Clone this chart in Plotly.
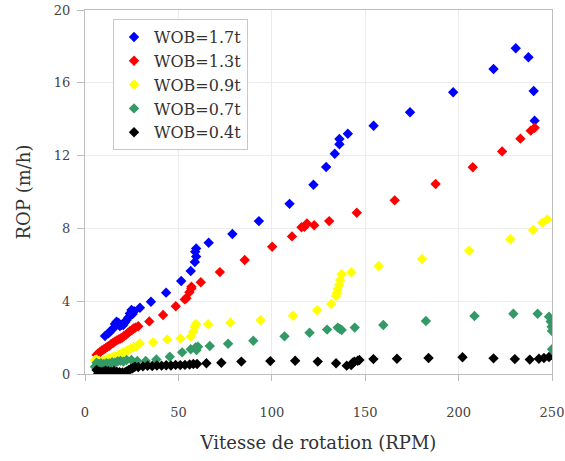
import plotly.graph_objects as go

# ROP vs rotation speed, one series per WOB
wob_labels = ["WOB=1.7t", "WOB=1.3t", "WOB=0.9t", "WOB=0.7t", "WOB=0.4t"]

rpm_17 = [10.7, 12.5, 13.5, 15.1, 16.0, 16.9, 18.0, 18.7, 19.5, 20.5, 21.5, 22.3, 23.2, 24.0, 24.9, 25.5, 26.3,
          29.4, 35.3, 43.4, 51.5, 56.6, 58.8, 59.5, 59.0, 59.5, 66.2, 78.9, 93.1, 109.5, 122.3, 129.1, 133.7,
          136.2, 136.2, 140.7, 154.5, 174.0, 197.1, 218.7, 230.6, 237.4, 240.2, 240.7]
rop_17 = [2.09, 2.23, 2.35, 2.5, 2.75, 2.87, 2.8, 2.64, 2.7, 2.69, 2.85, 2.97, 3.1, 3.33, 3.52, 3.3, 3.45,
          3.64, 3.97, 4.47, 5.11, 5.66, 6.15, 6.45, 6.72, 6.9, 7.21, 7.69, 8.4, 9.35, 10.4, 11.37, 12.1,
          12.62, 12.91, 13.2, 13.64, 14.38, 15.48, 16.76, 17.9, 17.4, 15.55, 13.92]

rpm_13 = [6.2, 7.0, 8.0, 9.0, 10.0, 11.0, 12.0, 13.0, 14.0, 15.0, 16.0, 17.0, 18.0, 19.0, 20.0, 21.0, 22.0,
          23.0, 24.0, 25.0, 26.0, 27.0, 28.5, 34.4, 41.8, 48.6, 53.4, 54.3, 55.9, 56.9, 57.0, 62.0, 72.2,
          85.5, 100.2, 110.8, 115.9, 117.5, 118.8, 122.7, 130.7, 145.5, 165.8, 187.7, 207.6, 223.3, 233.1,
          238.6, 240.7]
rop_13 = [1.05, 1.13, 1.2, 1.3, 1.35, 1.42, 1.5, 1.55, 1.65, 1.7, 1.78, 1.85, 1.9, 1.95, 2.0, 2.1, 2.15,
          2.25, 2.35, 2.4, 2.5, 2.55, 2.62, 2.89, 3.24, 3.72, 4.1, 4.16, 4.49, 4.7, 4.8, 5.04, 5.6,
          6.26, 6.99, 7.56, 8.06, 8.09, 8.27, 8.17, 8.4, 8.86, 9.54, 10.44, 11.36, 12.23, 12.93,
          13.37, 13.53]

rpm_09 = [5.3, 6.2, 7.5, 8.9, 10.0, 11.5, 13.0, 14.5, 16.0, 17.8, 19.0, 20.5, 22.0, 23.1, 24.5, 26.0, 27.6,
          29.4, 36.5, 44.0, 51.1, 56.6, 57.9, 58.8, 59.4, 65.9, 77.8, 94.0, 111.3, 124.3, 131.8, 134.4,
          134.8, 135.2, 136.0, 136.6, 137.4, 142.6, 157.2, 180.4, 205.7, 227.7, 239.9, 244.8, 247.5]
rop_09 = [0.77, 0.8, 0.72, 0.68, 0.75, 0.8, 0.85, 0.92, 0.98, 1.04, 1.1, 1.18, 1.25, 1.32, 1.4, 1.47, 1.54,
          1.68, 1.74, 1.9, 1.95, 2.05, 2.32, 2.6, 2.75, 2.73, 2.82, 2.97, 3.2, 3.5, 3.85, 4.29,
          4.45, 4.65, 4.89, 5.16, 5.48, 5.59, 5.93, 6.32, 6.78, 7.4, 7.91, 8.31, 8.49]

rpm_07 = [5.3, 6.2, 7.1, 8.5, 10.0, 11.5, 13.0, 14.5, 16.0, 17.5, 19.0, 20.5, 22.3, 24.9, 28.0, 32.5, 38.2,
          45.4, 52.0, 56.6, 59.3, 59.7, 60.5, 66.8, 76.6, 90.1, 106.8, 120.2, 129.6, 135.3, 136.5, 137.4,
          144.4, 159.7, 182.5, 208.5, 229.3, 242.3, 248.4, 249.3, 249.8, 250.0, 250.0]
rop_07 = [0.4, 0.62, 0.55, 0.6, 0.55, 0.6, 0.58, 0.65, 0.62, 0.7, 0.72, 0.68, 0.77, 0.77, 0.72, 0.72, 0.8,
          0.95, 1.19, 1.36, 1.47, 1.32, 1.5, 1.54, 1.66, 1.83, 2.07, 2.27, 2.44, 2.55, 2.47, 2.42,
          2.55, 2.69, 2.91, 3.19, 3.31, 3.31, 3.15, 2.88, 2.6, 2.36, 1.36]

rpm_04 = [6.2, 7.1, 8.0, 9.0, 9.8, 11.0, 12.5, 14.0, 15.5, 17.0, 18.5, 20.0, 21.5, 22.5, 23.5, 24.5, 25.5,
          26.7, 28.5, 31.0, 33.5, 36.0, 38.5, 41.0, 43.5, 46.0, 48.5, 51.0, 53.5, 56.0, 58.0, 60.0, 65.0,
          73.0, 83.7, 99.2, 112.5, 124.6, 134.4, 140.1, 142.5, 143.3, 144.2, 146.0, 146.9, 154.4, 167.0,
          183.9, 202.1, 218.7, 230.1, 238.1, 243.0, 245.7, 248.4]
rop_04 = [0.22, 0.04, 0.13, 0.1, 0.13, 0.18, 0.15, 0.12, 0.17, 0.12, 0.1, 0.08, 0.1, 0.15, 0.22, 0.28, 0.32,
          0.4, 0.38, 0.42, 0.45, 0.44, 0.47, 0.46, 0.48, 0.47, 0.5, 0.49, 0.5, 0.52, 0.55, 0.55, 0.59,
          0.62, 0.68, 0.71, 0.73, 0.68, 0.59, 0.46, 0.49, 0.62, 0.68, 0.73, 0.77, 0.82, 0.84,
          0.88, 0.92, 0.86, 0.82, 0.79, 0.84, 0.88, 0.93]

x_ticks = [0, 50, 100, 150, 200, 250]
y_ticks = [0, 4, 8, 12, 16, 20]

series = [(rpm_17, rop_17, "#0000ff"), (rpm_13, rop_13, "#ff0000"), (rpm_09, rop_09, "#ffff00"),
          (rpm_07, rop_07, "#339966"), (rpm_04, rop_04, "#000000")]

serif = "DejaVu Serif"

fig = go.Figure()
for name, (xs, ys, col) in zip(wob_labels, series):
    fig.add_trace(go.Scatter(x=xs, y=ys, mode="markers", name=name,
                             marker=dict(symbol="diamond", size=8, color=col)))

fig.update_layout(
    width=565, height=461,
    margin=dict(l=85, r=13, t=10, b=87, autoexpand=False),
    paper_bgcolor="white", plot_bgcolor="white",
    font=dict(family=serif, size=14, color="#333"),
    showlegend=True,
    legend=dict(x=0.06, y=0.975, xanchor="left", yanchor="top",
                bgcolor="white", bordercolor="#c8c8c8", borderwidth=1,
                font=dict(family=serif, size=16, color="#333"),
                tracegroupgap=0),
)
fig.update_xaxes(range=[0, 250], tickvals=x_ticks, showgrid=True, gridcolor="#ececec",
                 showline=True, linecolor="#bdbdbd", mirror=True, ticks="outside", ticklen=6,
                 tickcolor="#bdbdbd", zeroline=False, ticklabelstandoff=20, automargin=False,
                 tickfont=dict(family=serif, size=13, color="#444"),
                 title=dict(text="Vitesse de rotation (RPM)", standoff=17,
                            font=dict(family=serif, size=18, color="#333")))
fig.update_yaxes(range=[0, 20], tickvals=y_ticks, showgrid=True, gridcolor="#ececec",
                 showline=True, linecolor="#bdbdbd", mirror=True, ticks="outside", ticklen=7,
                 tickcolor="#bdbdbd", zeroline=False, ticklabelstandoff=4, automargin=False,
                 tickfont=dict(family=serif, size=13, color="#444"),
                 title=dict(text="ROP (m/h)", standoff=18,
                            font=dict(family=serif, size=18, color="#333")))

# drop the default page margin so the figure sits at the window's top-left corner
fig.write_html("out.html", config={"displayModeBar": False},
               post_script="document.body.style.margin='0';")
